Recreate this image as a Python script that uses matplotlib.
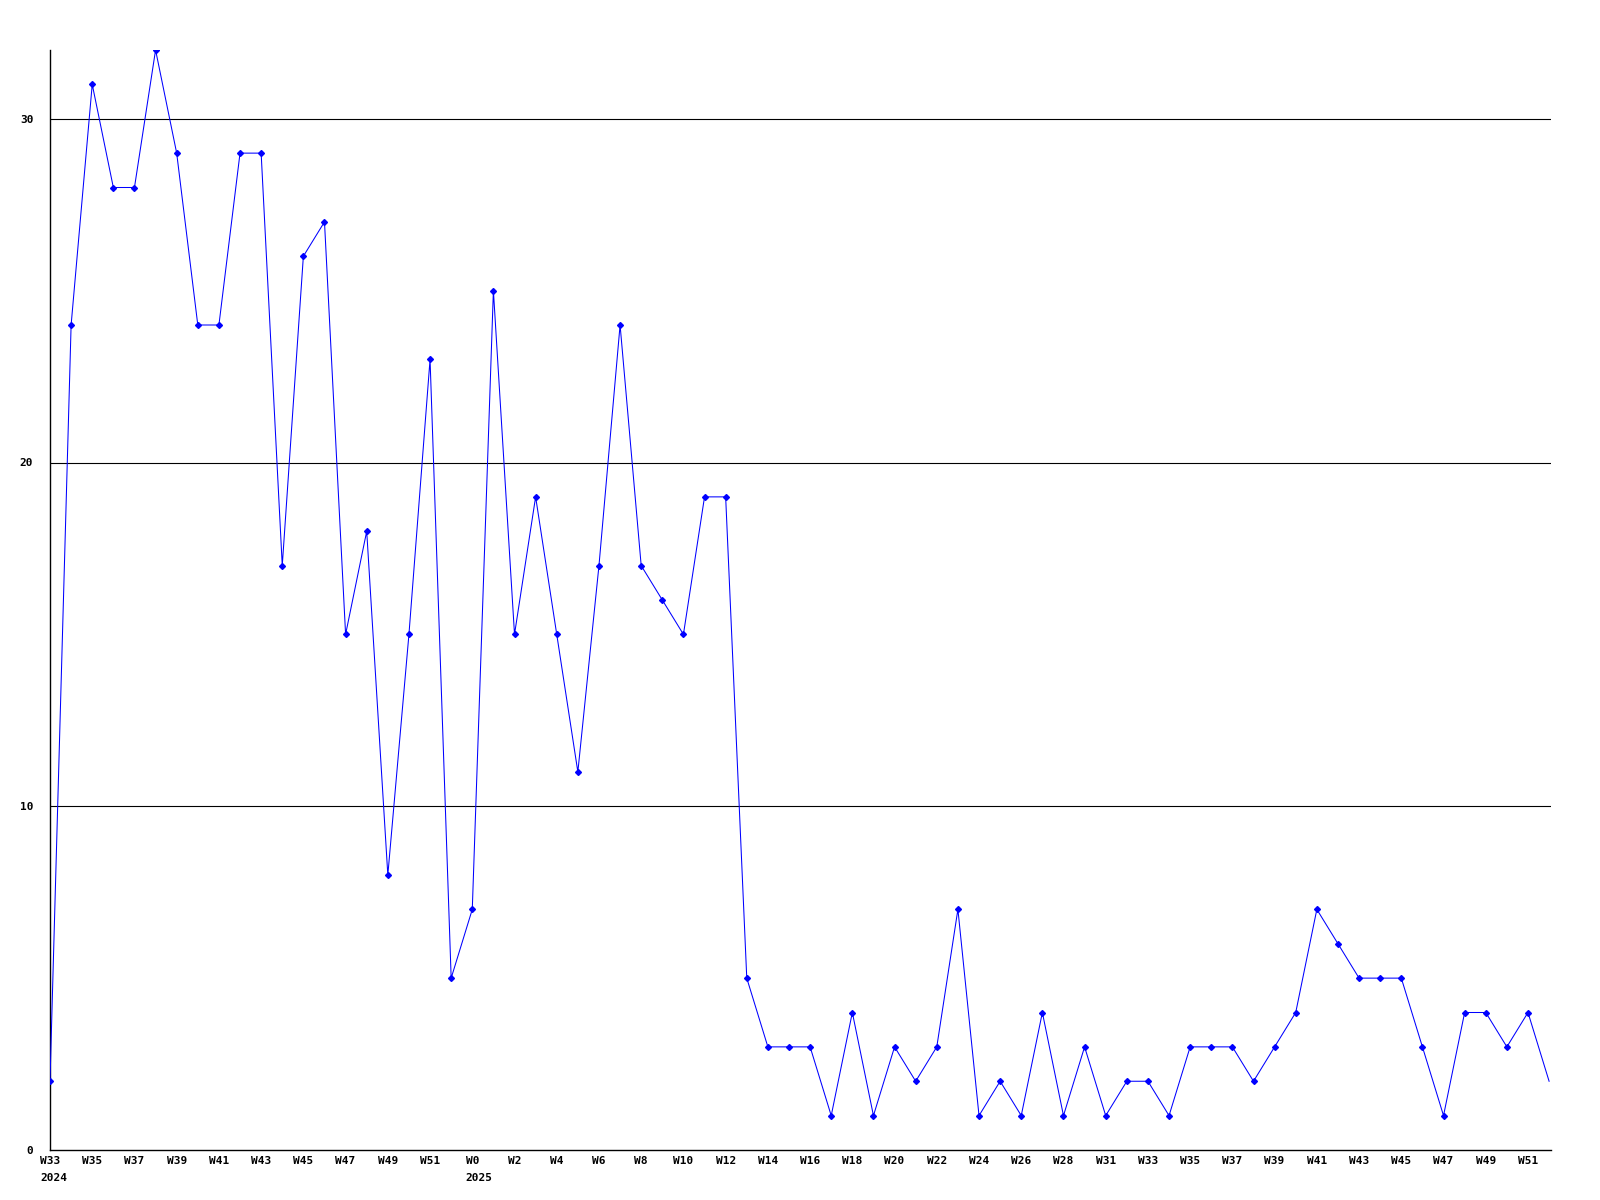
import matplotlib.pyplot as plt

# weekly counts, W33 2024 .. W51 2025 (72 points)
values = [2, 24, 31, 28, 28, 32, 29, 24, 24, 29, 29, 17, 26, 27, 15, 18, 8,
          15, 23, 5, 7, 25, 15, 19, 15, 11, 17, 24, 17, 16, 15, 19, 19, 5,
          3, 3, 3, 1, 4, 1, 3, 2, 3, 7, 1, 2, 1, 4, 1, 3, 1, 2, 2,
          1, 3, 3, 3, 2, 3, 4, 7, 6, 5, 5, 5, 3, 1, 4, 4, 3, 4, 2]

# x labels, one every second point
week_labels = ['W33', 'W35', 'W37', 'W39', 'W41', 'W43', 'W45', 'W47', 'W49', 'W51',
               'W0', 'W2', 'W4', 'W6', 'W8', 'W10', 'W12', 'W14', 'W16', 'W18',
               'W20', 'W22', 'W24', 'W26', 'W28', 'W31', 'W33', 'W35', 'W37', 'W39',
               'W41', 'W43', 'W45', 'W47', 'W49', 'W51']
year_labels = {'W33': '2024', 'W0': '2025'}  # only under first label of each year
y_ticks = [0, 10, 20, 30]

fs = 8
mono = 'DejaVu Sans Mono'

fig = plt.figure(figsize=(16, 12), dpi=100)
ax = fig.add_axes([50 / 1600, 50 / 1200, 1501 / 1600, 1100 / 1200])

x = list(range(len(values)))
ax.plot(x, values, color='#0000ff', linewidth=0.75, marker='D', markersize=3,
        markevery=list(range(len(values) - 1)), zorder=3)

for v in y_ticks[1:]:
    ax.axhline(v, color='black', linewidth=0.8, zorder=1)

ax.set_xlim(0, 71.09)
ax.set_ylim(0, 32)

for side in ['top', 'right']:
    ax.spines[side].set_visible(False)
for side in ['left', 'bottom']:
    ax.spines[side].set_linewidth(1.0)
    ax.spines[side].set_color('black')

tick_pos = list(range(0, 2 * len(week_labels), 2))
ax.set_xticks(tick_pos)
ax.set_xticklabels(week_labels, fontfamily=mono, fontweight='bold', fontsize=fs)
ax.set_yticks(y_ticks)
ax.set_yticklabels([str(v) for v in y_ticks], fontfamily=mono, fontweight='bold', fontsize=fs)
ax.tick_params(axis='x', length=0, pad=4)
ax.tick_params(axis='y', length=0, pad=12)

# year under the first week label of each year, left aligned with it
for pos, lab in zip(tick_pos, week_labels):
    if lab in year_labels and (lab != 'W33' or pos == 0):
        ax.annotate(year_labels[lab], xy=(pos, 0), xycoords=('data', 'axes fraction'),
                    xytext=(-len(lab) * 0.6 * fs / 2, -20), textcoords='offset points',
                    ha='left', va='center', fontfamily=mono, fontweight='bold',
                    fontsize=fs, annotation_clip=False)

fig.savefig('out.png', dpi=100)
